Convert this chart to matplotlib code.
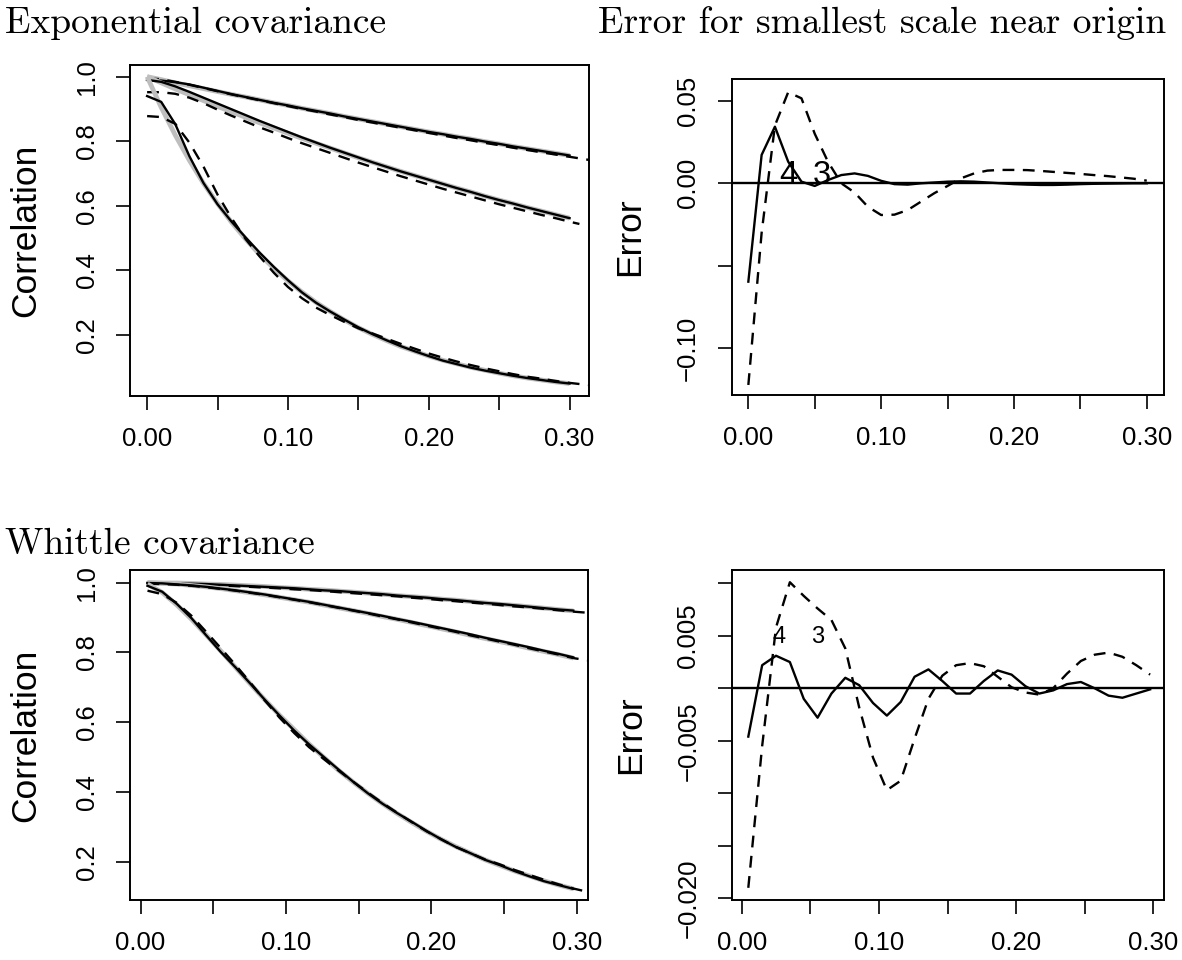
import matplotlib
matplotlib.use("Agg")
import matplotlib.pyplot as plt

SANS = "Liberation Sans"
SERIF = "cmr10"
GRAY = "#bebebe"
DASH = (0, (5, 3.6))
LW = 1.7

# ---- Exponential covariance (top row) ----
x_exp = [0.00, 0.01, 0.02, 0.03, 0.04, 0.05, 0.06, 0.07, 0.08, 0.09, 0.10,
         0.11, 0.12, 0.13, 0.14, 0.15, 0.16, 0.17, 0.18, 0.19, 0.20,
         0.21, 0.22, 0.23, 0.24, 0.25, 0.26, 0.27, 0.28, 0.29, 0.30]
x_exp_long = x_exp + [0.31, 0.32]
x_exp_mid = x_exp + [0.307]

exp_top_true = [1.000, 0.991, 0.981, 0.972, 0.963, 0.954, 0.945, 0.937, 0.928, 0.919, 0.911,
                0.902, 0.894, 0.886, 0.877, 0.869, 0.861, 0.853, 0.845, 0.837, 0.829,
                0.822, 0.814, 0.807, 0.799, 0.792, 0.784, 0.777, 0.770, 0.763, 0.756]
exp_top_solid = [0.990, 0.988, 0.983, 0.976, 0.966, 0.956, 0.946, 0.937, 0.928, 0.919, 0.911,
                 0.902, 0.894, 0.886, 0.877, 0.869, 0.861, 0.853, 0.845, 0.837, 0.829,
                 0.822, 0.814, 0.807, 0.799, 0.792, 0.784, 0.777, 0.770, 0.763, 0.756]
exp_top_dash = [0.995, 0.992, 0.984, 0.975, 0.965, 0.955, 0.945, 0.936, 0.927, 0.918, 0.909,
                0.900, 0.892, 0.883, 0.875, 0.866, 0.858, 0.850, 0.842, 0.834, 0.826,
                0.818, 0.810, 0.803, 0.795, 0.788, 0.780, 0.773, 0.766, 0.759, 0.752,
                0.745, 0.738]

exp_mid_true = [1.000, 0.981, 0.962, 0.944, 0.926, 0.908, 0.891, 0.874, 0.857, 0.841, 0.825,
                0.809, 0.794, 0.779, 0.764, 0.749, 0.735, 0.721, 0.707, 0.694, 0.681,
                0.668, 0.655, 0.643, 0.630, 0.618, 0.607, 0.595, 0.584, 0.573, 0.562]
exp_mid_solid = [0.990, 0.984, 0.970, 0.953, 0.935, 0.917, 0.899, 0.881, 0.863, 0.846, 0.829,
                 0.812, 0.796, 0.780, 0.765, 0.750, 0.735, 0.721, 0.707, 0.694, 0.681,
                 0.668, 0.655, 0.643, 0.630, 0.618, 0.607, 0.595, 0.584, 0.573, 0.562]
exp_mid_dash = [0.952, 0.952, 0.947, 0.935, 0.918, 0.898, 0.879, 0.861, 0.843, 0.827, 0.810,
                0.794, 0.779, 0.764, 0.749, 0.734, 0.720, 0.706, 0.692, 0.679, 0.666,
                0.653, 0.641, 0.629, 0.617, 0.605, 0.594, 0.583, 0.572, 0.562, 0.551,
                0.544]

exp_low_true = [1.000, 0.905, 0.819, 0.741, 0.670, 0.607, 0.549, 0.497, 0.449, 0.407, 0.368,
                0.333, 0.301, 0.273, 0.247, 0.223, 0.202, 0.183, 0.165, 0.150, 0.135,
                0.122, 0.111, 0.100, 0.091, 0.082, 0.074, 0.067, 0.061, 0.055, 0.050]
exp_low_solid = [0.940, 0.922, 0.853, 0.754, 0.671, 0.605, 0.551, 0.502, 0.455, 0.411, 0.370,
                 0.332, 0.300, 0.273, 0.248, 0.224, 0.203, 0.184, 0.166, 0.150, 0.135,
                 0.121, 0.110, 0.099, 0.090, 0.082, 0.074, 0.067, 0.061, 0.055, 0.050]
exp_low_dash = [0.878, 0.875, 0.854, 0.796, 0.722, 0.635, 0.562, 0.497, 0.443, 0.393, 0.349,
                0.314, 0.285, 0.262, 0.241, 0.221, 0.205, 0.189, 0.173, 0.158, 0.143,
                0.130, 0.118, 0.107, 0.097, 0.088, 0.079, 0.071, 0.065, 0.058, 0.052,
                0.047, 0.043]

exp_err_solid = [-0.0596, 0.0172, 0.0343, 0.0131, 0.0010, -0.0016, 0.0020, 0.0050, 0.0060,
                 0.0045, 0.0015, -0.0005, -0.0008, 0.0000, 0.0005, 0.0010, 0.0012, 0.0010,
                 0.0005, 0.0000, -0.0005, -0.0008, -0.0010, -0.0010, -0.0008, -0.0005,
                 -0.0003, -0.0002, -0.0001, 0.0000, 0.0000]
exp_err_dash = [-0.1222, -0.0300, 0.0350, 0.0552, 0.0515, 0.0300, 0.0130, 0.0000, -0.0056,
                -0.0142, -0.0192, -0.0190, -0.0162, -0.0111, -0.0060, -0.0016, 0.0030,
                0.0060, 0.0077, 0.0081, 0.0081, 0.0080, 0.0075, 0.0069, 0.0063, 0.0057,
                0.0050, 0.0044, 0.0036, 0.0028, 0.0016]

# ---- Whittle covariance (bottom row) ----
x_wh = [0.0048, 0.0149, 0.0250, 0.0351, 0.0452, 0.0553, 0.0654, 0.0755, 0.0856, 0.0957,
        0.1058, 0.1159, 0.1260, 0.1361, 0.1462, 0.1563, 0.1664, 0.1765, 0.1866, 0.1967,
        0.2068, 0.2169, 0.2270, 0.2371, 0.2472, 0.2573, 0.2674, 0.2775, 0.2876, 0.2977]
x_wh_long = x_wh + [0.310]

wh_top_true = [1.000, 0.999, 0.999, 0.998, 0.996, 0.995, 0.993, 0.991, 0.989, 0.986,
               0.984, 0.981, 0.979, 0.976, 0.973, 0.970, 0.967, 0.963, 0.960, 0.957,
               0.953, 0.950, 0.946, 0.942, 0.938, 0.935, 0.931, 0.927, 0.923, 0.919]
wh_top_solid = [0.999, 0.999, 0.998, 0.997, 0.996, 0.994, 0.992, 0.990, 0.988, 0.986,
                0.984, 0.981, 0.978, 0.976, 0.973, 0.970, 0.967, 0.963, 0.960, 0.957,
                0.953, 0.950, 0.946, 0.942, 0.939, 0.935, 0.931, 0.927, 0.923, 0.920]
wh_top_dash = [0.998, 0.997, 0.996, 0.995, 0.994, 0.992, 0.990, 0.988, 0.986, 0.984,
               0.981, 0.979, 0.976, 0.973, 0.970, 0.967, 0.964, 0.961, 0.957, 0.954,
               0.950, 0.947, 0.943, 0.940, 0.936, 0.932, 0.929, 0.925, 0.921, 0.917,
               0.913]

wh_mid_true = [1.000, 0.998, 0.996, 0.992, 0.988, 0.983, 0.977, 0.971, 0.965, 0.958,
               0.951, 0.944, 0.936, 0.928, 0.920, 0.912, 0.903, 0.895, 0.886, 0.877,
               0.868, 0.859, 0.849, 0.840, 0.831, 0.822, 0.812, 0.803, 0.794, 0.784]
wh_mid_solid = [0.999, 0.998, 0.995, 0.992, 0.988, 0.983, 0.978, 0.972, 0.966, 0.959,
                0.952, 0.945, 0.937, 0.929, 0.921, 0.913, 0.905, 0.896, 0.888, 0.879,
                0.870, 0.861, 0.852, 0.842, 0.833, 0.824, 0.815, 0.805, 0.796, 0.786]
wh_mid_dash = [0.997, 0.996, 0.994, 0.991, 0.987, 0.982, 0.977, 0.971, 0.965, 0.958,
               0.951, 0.944, 0.936, 0.928, 0.920, 0.912, 0.903, 0.895, 0.886, 0.877,
               0.868, 0.859, 0.849, 0.840, 0.831, 0.822, 0.812, 0.803, 0.794, 0.784,
               0.776]

wh_low_true = [0.996, 0.972, 0.936, 0.895, 0.850, 0.804, 0.757, 0.710, 0.664, 0.620,
               0.579, 0.538, 0.500, 0.463, 0.429, 0.397, 0.367, 0.339, 0.313, 0.288,
               0.265, 0.244, 0.225, 0.206, 0.190, 0.174, 0.160, 0.146, 0.134, 0.123]
wh_low_solid = [0.991, 0.974, 0.939, 0.898, 0.849, 0.801, 0.757, 0.711, 0.664, 0.619,
                0.576, 0.537, 0.501, 0.465, 0.430, 0.397, 0.367, 0.340, 0.315, 0.289,
                0.265, 0.243, 0.225, 0.206, 0.191, 0.174, 0.159, 0.145, 0.134, 0.123]
wh_low_dash = [0.977, 0.967, 0.942, 0.905, 0.859, 0.812, 0.764, 0.714, 0.662, 0.613,
               0.569, 0.529, 0.495, 0.462, 0.430, 0.399, 0.369, 0.341, 0.314, 0.288,
               0.265, 0.243, 0.225, 0.207, 0.193, 0.177, 0.163, 0.149, 0.136, 0.124,
               0.112]

wh_err_solid = [-0.0046, 0.0022, 0.0031, 0.0025, -0.0010, -0.0028, -0.0005, 0.0010, 0.0003,
                -0.0014, -0.0026, -0.0013, 0.0011, 0.0018, 0.0007, -0.0005, -0.0005, 0.0007,
                0.0017, 0.0013, 0.0002, -0.0005, -0.0002, 0.0004, 0.0006, 0.0000, -0.0007,
                -0.0009, -0.0005, -0.0001]
wh_err_dash = [-0.0190, -0.0055, 0.0058, 0.0101, 0.0088, 0.0076, 0.0065, 0.0038, -0.0018,
               -0.0066, -0.0097, -0.0088, -0.0048, -0.0010, 0.0012, 0.0022, 0.0024, 0.0021,
               0.0011, 0.0001, -0.0004, -0.0006, 0.0000, 0.0014, 0.0026, 0.0032, 0.0034,
               0.0030, 0.0022, 0.0013]

x_ticks = [0.00, 0.05, 0.10, 0.15, 0.20, 0.25, 0.30]
x_tick_labels = ["0.00", "", "0.10", "", "0.20", "", "0.30"]
corr_ticks = [0.2, 0.4, 0.6, 0.8, 1.0]
corr_tick_labels = ["0.2", "0.4", "0.6", "0.8", "1.0"]
exp_err_ticks = [-0.10, -0.05, 0.00, 0.05]
exp_err_tick_labels = ["\u22120.10", "", "0.00", "0.05"]
wh_err_ticks = [-0.020, -0.015, -0.010, -0.005, 0.000, 0.005, 0.010]
wh_err_tick_labels = ["\u22120.020", "", "", "\u22120.005", "", "0.005", ""]


def style_axes(ax, xlim, ylim, yticks, ytick_labels, ylabel, label_x):
    ax.set_xlim(*xlim)
    ax.set_ylim(*ylim)
    ax.set_xticks(x_ticks)
    ax.set_xticklabels(x_tick_labels)
    ax.set_yticks(yticks)
    ax.set_yticklabels(ytick_labels, rotation=90, va="center")
    ax.tick_params(direction="out", length=10, width=1.2, labelsize=18.5)
    ax.tick_params(axis="x", pad=12)
    ax.tick_params(axis="y", pad=13)
    for label in ax.get_xticklabels() + ax.get_yticklabels():
        label.set_fontfamily(SANS)
    for spine in ax.spines.values():
        spine.set_linewidth(1.4)
    ax.set_ylabel(ylabel, fontsize=25.5, fontfamily=SANS, va="center")
    ax.yaxis.set_label_coords(label_x, 0.5)


def draw_curves(ax, x, x_dash, truths, solids, dashes, x_dash_list=None):
    for i, (t, s, d) in enumerate(zip(truths, solids, dashes)):
        xd = x_dash_list[i] if x_dash_list else x_dash
        ax.plot(x, t, color=GRAY, lw=3.4, solid_capstyle="butt")
        ax.plot(x, s, color="black", lw=LW)
        ax.plot(xd, d, color="black", lw=LW, linestyle=DASH)


def main():
    fig = plt.figure(figsize=(11.82, 9.6), dpi=100)

    ax_tl = fig.add_axes([0.1104, 0.5870, 0.3879, 0.3453])
    ax_tr = fig.add_axes([0.6193, 0.5885, 0.3655, 0.3292])
    ax_bl = fig.add_axes([0.1104, 0.0620, 0.3873, 0.3443])
    ax_br = fig.add_axes([0.6195, 0.0625, 0.3655, 0.3438])

    # Exponential correlations
    draw_curves(
        ax_tl, x_exp, None,
        [exp_top_true, exp_mid_true, exp_low_true],
        [exp_top_solid, exp_mid_solid, exp_low_solid],
        [exp_top_dash, exp_mid_dash, exp_low_dash],
        x_dash_list=[x_exp_long, x_exp_mid, x_exp_long],
    )
    style_axes(ax_tl, (-0.0118, 0.3138), (0.0099, 1.0362),
               corr_ticks, corr_tick_labels, "Correlation", -0.229)

    # Error near origin, exponential
    ax_tr.axhline(0, color="black", lw=LW)
    ax_tr.plot(x_exp, exp_err_solid, color="black", lw=LW)
    ax_tr.plot(x_exp, exp_err_dash, color="black", lw=LW, linestyle=DASH)
    ax_tr.text(0.030, 0.005, "4", fontsize=23.5, fontfamily=SANS, ha="center", va="center")
    ax_tr.text(0.0553, 0.005, "3", fontsize=23.5, fontfamily=SANS, ha="center", va="center")
    style_axes(ax_tr, (-0.0123, 0.3130), (-0.1283, 0.0632),
               exp_err_ticks, exp_err_tick_labels, "Error", -0.236)

    # Whittle correlations
    draw_curves(
        ax_bl, x_wh, x_wh_long,
        [wh_top_true, wh_mid_true, wh_low_true],
        [wh_top_solid, wh_mid_solid, wh_low_solid],
        [wh_top_dash, wh_mid_dash, wh_low_dash],
    )
    style_axes(ax_bl, (-0.0069, 0.308), (0.0897, 1.0364),
               corr_ticks, corr_tick_labels, "Correlation", -0.229)

    # Error near origin, Whittle
    ax_br.axhline(0, color="black", lw=LW)
    ax_br.plot(x_wh, wh_err_solid, color="black", lw=LW)
    ax_br.plot(x_wh, wh_err_dash, color="black", lw=LW, linestyle=DASH)
    ax_br.text(0.0274, 0.0049, "4", fontsize=17, fontfamily=SANS, ha="center", va="center")
    ax_br.text(0.0551, 0.0049, "3", fontsize=17, fontfamily=SANS, ha="center", va="center")
    style_axes(ax_br, (-0.0069, 0.308), (-0.02016, 0.01127),
               wh_err_ticks, wh_err_tick_labels, "Error", -0.236)

    fig.text(0.004, 1 - 23 / 960, "Exponential covariance", fontsize=27,
             fontfamily=SERIF, ha="left", va="center")
    fig.text(598 / 1182, 1 - 23 / 960, "Error for smallest scale near origin", fontsize=27,
             fontfamily=SERIF, ha="left", va="center")
    fig.text(0.004, 1 - 544 / 960, "Whittle covariance", fontsize=27,
             fontfamily=SERIF, ha="left", va="center")

    fig.savefig("out.png", dpi=100)


if __name__ == "__main__":
    main()
